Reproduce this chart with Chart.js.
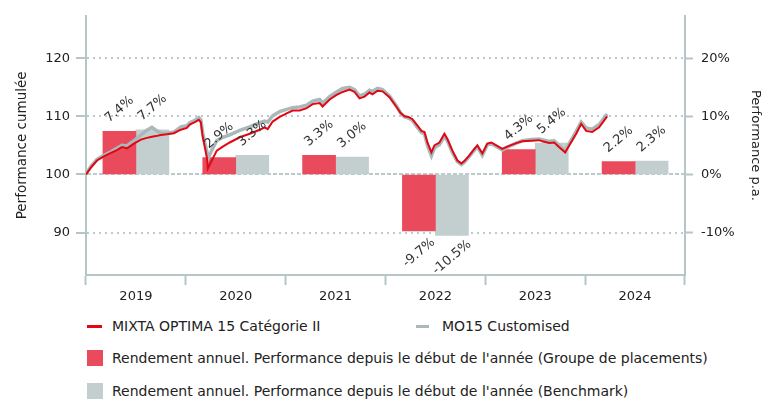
<!DOCTYPE html>
<html>
<head>
<meta charset="utf-8">
<script src="https://cdn.jsdelivr.net/npm/chart.js@4.4.1/dist/chart.umd.min.js"></script>
<style>
  body { margin: 0; background: #fff; font-family: "DejaVu Sans", sans-serif; color: #222; }
  #cadre { position: relative; width: 767px; height: 401px; }
  #zoneGraph { position: absolute; left: 0; top: 0; width: 767px; height: 310px; }
  .leg { position: absolute; font-size: 14px; line-height: 16px; white-space: nowrap; }
  .trait { position: absolute; height: 3px; }
  .carre { position: absolute; width: 16px; height: 16px; }
</style>
</head>
<body>
<div id="cadre">
  <div id="zoneGraph"><canvas id="chartPerf"></canvas></div>

  <div class="trait" style="left:87px; top:325px; width:15px; background:#e30613;"></div>
  <div class="leg" style="left:112px; top:318px;">MIXTA OPTIMA 15 Catégorie II</div>
  <div class="trait" style="left:416px; top:325px; width:13px; background:#a9b8b9;"></div>
  <div class="leg" style="left:442px; top:318px;">MO15 Customised</div>

  <div class="carre" style="left:87px; top:350px; background:#e94b5d;"></div>
  <div class="leg" style="left:112px; top:350px;">Rendement annuel. Performance depuis le début de l'année (Groupe de placements)</div>
  <div class="carre" style="left:87px; top:383px; background:#c3cfcf;"></div>
  <div class="leg" style="left:112px; top:383px;">Rendement annuel. Performance depuis le début de l'année (Benchmark)</div>
</div>

<script>
// Rendements annuels (en %)
const annees = ['2019', '2020', '2021', '2022', '2023', '2024'];
const rendementFonds = [7.4, 2.9, 3.3, -9.7, 4.3, 2.2];
const rendementBench = [7.7, 3.3, 3.0, -10.5, 5.4, 2.3];

// Graduations des deux axes verticaux
const ticksCumul = [90, 100, 110, 120];
const ticksPa = [-10, 0, 10, 20];

// Performance cumulée (base 100 au 1.1.2019), temps en années depuis 2019
const temps = [
  0.00, 0.05, 0.11, 0.18, 0.25, 0.31, 0.36, 0.41, 0.48, 0.55, 0.61, 0.66, 0.70, 0.75, 0.81, 0.88, 0.95,
  1.01, 1.04, 1.09, 1.13, 1.15, 1.17, 1.21, 1.22, 1.26, 1.31, 1.37, 1.44, 1.54, 1.64, 1.74, 1.79, 1.82, 1.87, 1.94,
  2.01, 2.07, 2.14, 2.21, 2.27, 2.34, 2.37, 2.44, 2.51, 2.57, 2.64, 2.69, 2.74, 2.79, 2.84, 2.87, 2.92, 2.97,
  3.04, 3.11, 3.15, 3.19, 3.23, 3.27, 3.32, 3.36, 3.39, 3.42, 3.46, 3.49, 3.54, 3.59, 3.62, 3.67, 3.72, 3.76, 3.79, 3.84, 3.89, 3.92, 3.97,
  4.02, 4.06, 4.11, 4.17, 4.22, 4.31, 4.37, 4.46, 4.54, 4.57, 4.64, 4.69, 4.74, 4.80, 4.84, 4.91, 4.96,
  5.01, 5.07, 5.14, 5.22
];
const perfFonds = [
  100.0, 101.2, 102.4, 103.1, 103.7, 104.2, 104.7, 104.5, 105.3, 106.0, 106.3, 106.5, 106.6, 106.8, 106.9, 107.1, 107.7,
  108.0, 108.6, 109.0, 109.4, 109.0, 106.4, 103.0, 101.0, 102.4, 104.1, 104.8, 105.5, 106.4, 107.0, 107.7, 108.1, 107.8, 109.1, 109.9,
  110.5, 111.0, 111.0, 111.4, 112.1, 112.3, 111.7, 112.9, 113.7, 114.2, 114.6, 114.2, 113.1, 113.4, 114.1, 113.8, 114.4, 114.3,
  113.3, 111.6, 110.6, 110.0, 109.9, 109.5, 108.4, 107.5, 107.3, 105.5, 103.8, 105.0, 105.5, 107.0, 106.1, 104.1, 102.4, 101.9, 102.3, 103.3, 104.4, 105.0, 103.6,
  105.3, 105.5, 105.0, 104.4, 104.8, 105.4, 105.7, 105.8, 105.9, 105.7, 105.4, 105.5, 104.7, 103.8, 105.0, 107.0, 108.7,
  107.5, 107.3, 108.1, 110.0
];
const perfBench = [
  100.0, 101.4, 102.6, 103.3, 103.9, 104.5, 105.0, 104.9, 105.8, 106.8, 107.6, 108.1, 107.6, 107.1, 107.1, 107.3, 108.2,
  108.4, 108.9, 109.3, 109.8, 109.4, 107.0, 104.0, 102.6, 104.2, 105.8, 106.4, 106.8, 107.6, 108.2, 108.9, 109.2, 109.0, 110.1, 110.8,
  111.2, 111.5, 111.6, 111.9, 112.6, 112.9, 112.3, 113.4, 114.2, 114.8, 115.0, 114.6, 113.5, 113.8, 114.5, 114.3, 114.8, 114.6,
  113.5, 111.8, 110.6, 109.9, 109.7, 109.3, 108.1, 107.2, 107.0, 105.0, 103.2, 104.6, 105.1, 106.6, 105.8, 103.8, 102.2, 101.7, 102.1, 103.1, 104.2, 104.8, 103.3,
  105.1, 105.3, 104.8, 104.2, 104.7, 105.4, 105.8, 106.0, 106.1, 106.0, 105.7, 105.8, 105.0, 104.0, 105.3, 107.4, 109.0,
  108.0, 107.8, 108.6, 110.4
];

const couleurAxe = '#b4c6c6';
const couleurGrille = '#b9cbcb';
const police = { family: '"DejaVu Sans", sans-serif', size: 13 };

// valeurs en % au-dessus / en dessous des barres, inclinées
const etiquettesBarres = {
  id: 'etiquettesBarres',
  afterDatasetsDraw(chart) {
    const ctx = chart.ctx;
    ctx.save();
    ctx.font = '13px "DejaVu Sans", sans-serif';
    ctx.fillStyle = '#333';
    ctx.textAlign = 'center';
    ctx.textBaseline = 'middle';
    chart.data.datasets.forEach((ds, i) => {
      if (ds.type !== 'bar') return;
      chart.getDatasetMeta(i).data.forEach((barre, j) => {
        const v = ds.data[j];
        const y = v >= 0 ? barre.y - 22 : barre.y + 22;
        ctx.save();
        ctx.translate(barre.x, y);
        ctx.rotate(-40 * Math.PI / 180);
        ctx.fillText(v.toFixed(1) + '%', 0, 0);
        ctx.restore();
      });
    });
    ctx.restore();
  }
};

const pointsFonds = temps.map((t, i) => ({ x: t, y: perfFonds[i] }));
const pointsBench = temps.map((t, i) => ({ x: t, y: perfBench[i] }));

new Chart(document.getElementById('chartPerf'), {
  data: {
    labels: annees,
    datasets: [
      {
        type: 'line',
        label: 'MIXTA OPTIMA 15 Catégorie II',
        data: pointsFonds,
        xAxisID: 'xt',
        yAxisID: 'y',
        borderColor: '#e30613',
        borderWidth: 2,
        pointRadius: 0,
        tension: 0,
        order: 0
      },
      {
        type: 'line',
        label: 'MO15 Customised',
        data: pointsBench,
        xAxisID: 'xt',
        yAxisID: 'y',
        borderColor: '#a9b8b9',
        borderWidth: 3.5,
        pointRadius: 0,
        tension: 0,
        order: 1
      },
      {
        type: 'bar',
        label: 'Groupe de placements',
        data: rendementFonds,
        xAxisID: 'x',
        yAxisID: 'yPa',
        backgroundColor: '#e94b5d',
        barThickness: 33,
        order: 2
      },
      {
        type: 'bar',
        label: 'Benchmark',
        data: rendementBench,
        xAxisID: 'x',
        yAxisID: 'yPa',
        backgroundColor: '#c3cfcf',
        barThickness: 33,
        order: 3
      }
    ]
  },
  options: {
    responsive: true,
    maintainAspectRatio: false,
    animation: false,
    layout: { padding: { top: 15, left: 0, right: 0, bottom: 0 } },
    plugins: {
      legend: { display: false },
      tooltip: { enabled: false }
    },
    scales: {
      x: {
        type: 'category',
        position: 'bottom',
        offset: true,
        grid: {
          offset: true,
          drawOnChartArea: false,
          tickLength: 10,
          tickColor: couleurAxe,
          tickWidth: 2
        },
        border: { color: couleurAxe, width: 2 },
        ticks: { color: '#222', font: police, padding: 4 },
        afterFit(scale) { scale.height = 35; }
      },
      xt: {
        type: 'linear',
        display: false,
        min: 0,
        max: 6
      },
      y: {
        type: 'linear',
        position: 'left',
        min: 82.7,
        max: 127.3,
        afterBuildTicks(scale) { scale.ticks = ticksCumul.map(v => ({ value: v })); },
        grid: {
          color: couleurGrille,
          lineWidth: 2,
          tickLength: 10,
          tickColor: couleurAxe,
          tickWidth: 2
        },
        border: {
          color: couleurAxe,
          width: 2,
          dash: c => (c.tick && c.tick.value === 100 ? [4, 2] : [2, 4])
        },
        ticks: { color: '#222', font: police, padding: 6 },
        title: {
          display: true,
          text: 'Performance cumulée',
          color: '#222',
          font: { family: police.family, size: 13.5 },
          padding: { top: 14, bottom: 0 }
        },
        afterFit(scale) { scale.width = 86; }
      },
      yPa: {
        type: 'linear',
        position: 'right',
        min: -17.3,
        max: 27.3,
        afterBuildTicks(scale) { scale.ticks = ticksPa.map(v => ({ value: v })); },
        grid: {
          drawOnChartArea: false,
          tickLength: 8,
          tickColor: couleurAxe,
          tickWidth: 2
        },
        border: { color: couleurAxe, width: 2 },
        ticks: {
          color: '#222',
          font: police,
          padding: 8,
          callback: v => v + '%'
        },
        title: {
          display: true,
          text: 'Performance p.a.',
          color: '#222',
          font: police,
          padding: { top: 4, bottom: 0 }
        },
        afterFit(scale) { scale.width = 82; }
      }
    }
  },
  plugins: [etiquettesBarres]
});
</script>
</body>
</html>
